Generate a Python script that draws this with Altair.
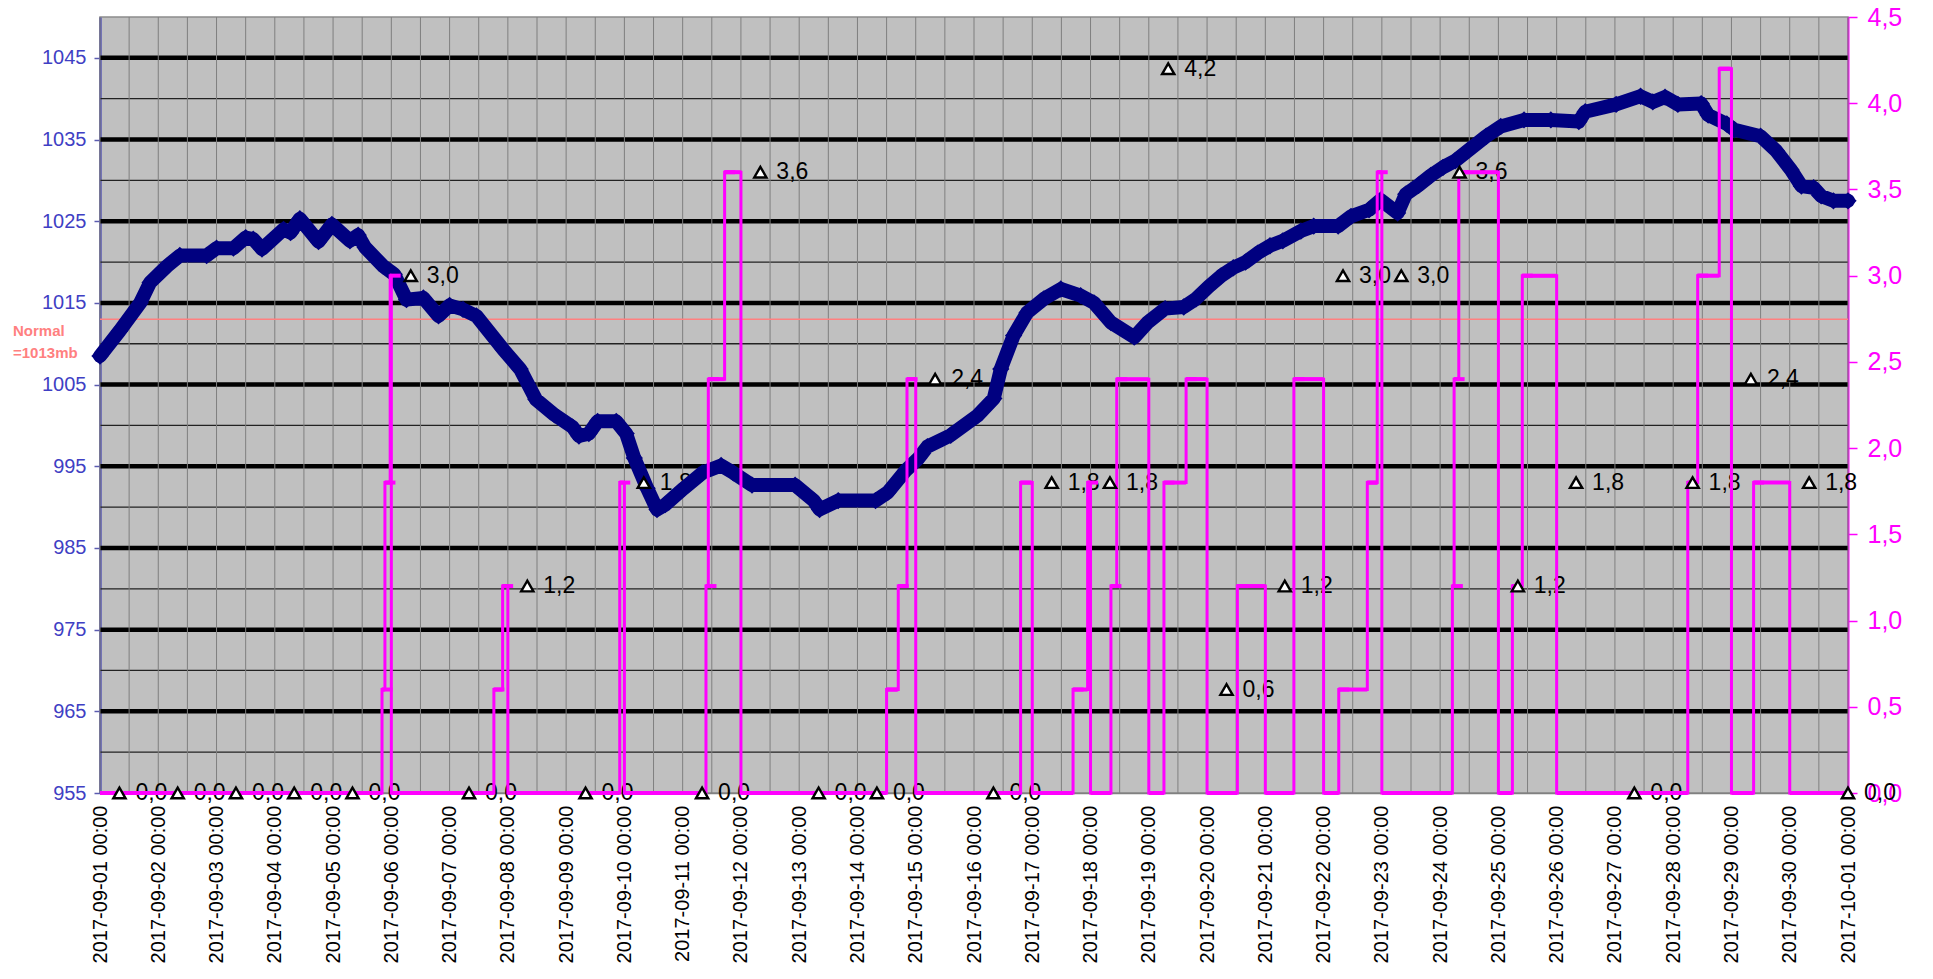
import altair as alt
import pandas as pd

FONT = "Liberation Sans"

# ---- pressure (mb): days since 2017-09-01 00:00 ----
p_day = [0.0, 0.34, 0.69, 0.86, 1.15, 1.37, 1.83, 2.0, 2.29, 2.5,
         2.63, 2.78, 3.15, 3.27, 3.43, 3.75, 3.98, 4.29, 4.43, 4.55,
         4.86, 5.05, 5.26, 5.55, 5.81, 6.0, 6.23, 6.46, 6.92, 7.21,
         7.48, 7.8, 8.11, 8.22, 8.39, 8.54, 8.86, 9.03, 9.17, 9.39,
         9.56, 9.7, 10.02, 10.34, 10.66, 10.87, 11.19, 11.93, 12.25, 12.35,
         12.67, 13.31, 13.52, 13.83, 14.05, 14.2, 14.6, 15.06, 15.34, 15.46,
         15.68, 15.91, 16.2, 16.49, 16.83, 17.06, 17.35, 17.75, 17.98, 18.28,
         18.6, 18.81, 19.03, 19.24, 19.45, 19.66, 19.87, 20.08, 20.3, 20.61,
         20.83, 21.25, 21.47, 21.78, 21.98, 22.27, 22.41, 22.63, 22.84, 23.05,
         23.26, 23.47, 23.79, 24.04, 24.44, 24.9, 25.38, 25.49, 26.02, 26.44,
         26.65, 26.86, 27.08, 27.48, 27.6, 27.92, 28.05, 28.5, 28.77, 29.02,
         29.2, 29.41, 29.54, 29.75, 30.0]
p_mb = [1008.5, 1011.6, 1015.0, 1017.5, 1019.5, 1020.8, 1020.8, 1021.7, 1021.7, 1023.0,
        1022.8, 1021.6, 1024.0, 1023.6, 1025.3, 1022.5, 1024.6, 1022.6, 1023.3, 1021.8,
        1019.5, 1018.5, 1015.4, 1015.6, 1013.4, 1014.7, 1014.2, 1013.4, 1009.3, 1006.9,
        1003.2, 1001.3, 999.8, 998.7, 999.0, 1000.5, 1000.5, 999.0, 996.0, 992.3,
        989.7, 990.3, 992.3, 994.2, 995.1, 994.2, 992.7, 992.7, 990.8, 989.7,
        990.8, 990.8, 991.8, 994.5, 996.0, 997.4, 998.8, 1001.2, 1003.3, 1006.9,
        1011.0, 1013.8, 1015.5, 1016.7, 1015.9, 1015.0, 1012.6, 1010.8, 1012.6, 1014.3,
        1014.5, 1015.5, 1017.0, 1018.3, 1019.3, 1020.0, 1021.1, 1022.0, 1022.6, 1023.8,
        1024.4, 1024.4, 1025.6, 1026.4, 1027.6, 1026.0, 1028.3, 1029.4, 1030.6, 1031.6,
        1032.4, 1033.6, 1035.4, 1036.6, 1037.4, 1037.4, 1037.2, 1038.4, 1039.3, 1040.3,
        1039.6, 1040.2, 1039.3, 1039.4, 1038.0, 1036.9, 1036.2, 1035.4, 1033.6, 1031.3,
        1029.3, 1029.1, 1028.1, 1027.5, 1027.5]

# ---- cumulative rain since midnight (mm), transitions ----
rain_day = [0.0, 4.84, 4.89, 4.98, 5.0, 6.76, 6.91, 7.0, 8.92, 9.0,
            10.40, 10.44, 10.72, 11.0, 13.50, 13.70, 13.85, 14.0, 15.80, 16.0,
            16.70, 16.95, 17.0, 17.35, 17.45, 18.0, 18.26, 18.64, 19.0, 19.52,
            20.0, 20.49, 21.0, 21.26, 21.75, 21.92, 22.0, 23.21, 23.24, 23.32,
            24.0, 24.24, 24.41, 25.0, 27.25, 27.42, 27.79, 28.0, 28.38, 29.0, 30.0]
rain_mm = [0.0, 0.6, 1.8, 3.0, 0.0, 0.6, 1.2, 0.0, 1.8, 0.0,
           1.2, 2.4, 3.6, 0.0, 0.6, 1.2, 2.4, 0.0, 1.8, 0.0,
           0.6, 1.8, 0.0, 1.2, 2.4, 0.0, 1.8, 2.4, 0.0, 1.2,
           0.0, 2.4, 0.0, 0.6, 1.8, 3.6, 0.0, 1.2, 2.4, 3.6,
           0.0, 1.2, 3.0, 0.0, 1.8, 3.0, 4.2, 0.0, 1.8, 0.0, 0.0]

# ---- 24h rain totals (triangle labels) ----
daily_time = ["2017-09-01 08:00", "2017-09-02 08:00", "2017-09-03 08:00", "2017-09-04 08:00",
              "2017-09-05 08:00", "2017-09-06 08:00", "2017-09-07 08:00", "2017-09-08 08:00",
              "2017-09-09 08:00", "2017-09-10 08:00", "2017-09-11 08:00", "2017-09-12 08:00",
              "2017-09-13 08:00", "2017-09-14 08:00", "2017-09-15 08:00", "2017-09-16 08:00",
              "2017-09-17 08:00", "2017-09-18 08:00", "2017-09-19 08:00", "2017-09-20 08:00",
              "2017-09-21 08:00", "2017-09-22 08:00", "2017-09-23 08:00", "2017-09-24 08:00",
              "2017-09-25 08:00", "2017-09-26 08:00", "2017-09-27 08:00", "2017-09-28 08:00",
              "2017-09-29 08:00", "2017-09-30 08:00", "2017-10-01 00:00"]
daily_total = [0.0, 0.0, 0.0, 0.0, 0.0, 3.0, 0.0, 1.2, 0.0, 1.8,
               0.0, 3.6, 0.0, 0.0, 2.4, 0.0, 1.8, 1.8, 4.2, 0.6,
               1.2, 3.0, 3.0, 3.6, 1.2, 1.8, 0.0, 1.8, 2.4, 1.8, 0.0]

# ---- axis levels ----
left_ticks = [955, 965, 975, 985, 995, 1005, 1015, 1025, 1035, 1045]
grid_major = [965, 975, 985, 995, 1005, 1015, 1025, 1035, 1045]
grid_minor = [960, 970, 980, 990, 1000, 1010, 1020, 1030, 1040]
right_ticks = [0, 0.5, 1, 1.5, 2, 2.5, 3, 3.5, 4, 4.5]
normal_mb = [1013]
normal_text = ["Normal\n=1013mb"]

T0 = pd.Timestamp("2017-09-01 00:00")
press = pd.DataFrame({"t": T0 + pd.to_timedelta(p_day, unit="D"), "mb": p_mb})
rain = pd.DataFrame({"t": T0 + pd.to_timedelta(rain_day, unit="D"), "v": rain_mm})
rain["t2"] = rain["t"].shift(-1)
seg = rain.dropna().copy()
wet = rain[rain["v"] > 0].copy()
daily = pd.DataFrame({"t": pd.to_datetime(daily_time), "v": daily_total})
daily["lab"] = [f"{v:.1f}".replace(".", ",") for v in daily_total]
vgrid = pd.DataFrame({"t": pd.date_range("2017-09-01", "2017-10-01", freq="12h")})
major_df = pd.DataFrame({"mb": grid_major})
minor_df = pd.DataFrame({"mb": grid_minor})
normal_df = pd.DataFrame({"mb": normal_mb, "txt": normal_text})

day_vals = [alt.DateTime(year=2017, month=9, date=d) for d in range(1, 31)] + \
           [alt.DateTime(year=2017, month=10, date=1)]
xscale = alt.Scale(domain=[alt.DateTime(year=2017, month=9, date=1),
                           alt.DateTime(year=2017, month=10, date=1)], nice=False)
xaxis = alt.Axis(values=day_vals, format="%Y-%m-%d %H:%M", labelAngle=270, grid=False,
                 ticks=False, labelFontSize=20, labelColor="black", labelPadding=12,
                 domainColor="#808080", domainWidth=1.5, labelOverlap=False,
                 labelFont=FONT, title=None)


def X(field="t"):
    return alt.X(f"{field}:T", scale=xscale, axis=xaxis)


yL = alt.Scale(domain=[955, 1050], nice=False, zero=False)
yL_axis = alt.Axis(values=left_ticks, format="d", grid=False, title=None, labelFontSize=20,
                   labelColor="#3f3fc4", labelFont=FONT, tickColor="#5b5bb0",
                   domainColor="#5b5bb0", domainWidth=2.5, tickSize=6, tickWidth=1.5,
                   labelPadding=8, orient="left")
yR = alt.Scale(domain=[0, 4.5], nice=False, zero=True)
yR_axis = alt.Axis(values=right_ticks, grid=False, title=None, labelFontSize=25,
                   labelColor="#ff00ff", labelFont=FONT, tickColor="#ff00ff",
                   domainColor="#ff00ff", domainWidth=2, tickSize=9, tickWidth=1.5,
                   labelPadding=10, orient="right",
                   labelExpr="replace(format(datum.value, '.1f'), '.', ',')")

# --- left group A: grid and normal line ---
minor = alt.Chart(minor_df).mark_rule(color="#222222", strokeWidth=1.3).encode(
    y=alt.Y("mb:Q", scale=yL, axis=yL_axis))
major = alt.Chart(major_df).mark_rule(color="#000000", strokeWidth=4.5).encode(
    y=alt.Y("mb:Q", scale=yL, axis=yL_axis))
vg = alt.Chart(vgrid).mark_rule(color="#7f7f7f", strokeWidth=1).encode(x=X())
normal_rule = alt.Chart(normal_df).mark_rule(color="#ff8080", strokeWidth=1.3).encode(
    y=alt.Y("mb:Q", scale=yL, axis=yL_axis))
normal_lbl = alt.Chart(normal_df).mark_text(
    align="left", baseline="top", dy=5, lineBreak="\n", lineHeight=22,
    fontWeight="bold", fontSize=15, color="#ff8080", font=FONT).encode(
    x=alt.value(-87), y=alt.Y("mb:Q", scale=yL, axis=yL_axis), text="txt:N")
left_A = alt.layer(minor, major, vg, normal_rule, normal_lbl)

# --- right group A: data labels ---
right_A = alt.Chart(daily).mark_text(
    align="left", baseline="middle", dx=16, fontSize=23, color="black", font=FONT).encode(
    x=X(), y=alt.Y("v:Q", scale=yR, axis=None), text="lab:N")

# --- left group B: pressure ---
p_line = alt.Chart(press).mark_line(color="#000080", strokeWidth=14, strokeJoin="round",
                                    strokeCap="round").encode(
    x=X(), y=alt.Y("mb:Q", scale=yL, axis=None))
p_pts = alt.Chart(press).mark_point(shape="diamond", filled=True, size=300,
                                    color="#000080", opacity=1).encode(
    x=X(), y=alt.Y("mb:Q", scale=yL, axis=None))
left_B = alt.layer(p_line, p_pts)

# --- right group B: rain + triangles ---
r_seg = alt.Chart(seg).mark_rule(color="#ff00ff", strokeWidth=4).encode(
    x=X(), x2=alt.X2("t2:T"), y=alt.Y("v:Q", scale=yR, axis=yR_axis))
r_line = alt.Chart(rain).mark_line(color="#ff00ff", strokeWidth=3,
                                   interpolate="step-after").encode(
    x=X(), y=alt.Y("v:Q", scale=yR, axis=yR_axis))
r_dash = alt.Chart(wet).mark_tick(color="#ff00ff", orient="horizontal", size=11,
                                  thickness=4, xOffset=5, opacity=1).encode(
    x=X(), y=alt.Y("v:Q", scale=yR, axis=yR_axis))
tri = alt.Chart(daily).mark_point(shape="triangle-up", filled=True, fill="white",
                                  stroke="black", strokeWidth=2.4, size=150,
                                  opacity=1).encode(
    x=X(), y=alt.Y("v:Q", scale=yR, axis=yR_axis))
right_B = alt.layer(r_seg, r_line, r_dash, tri)

chart = alt.layer(left_A, right_A, left_B, right_B).resolve_scale(
    y="independent").resolve_axis(y="independent").properties(
    width=1748, height=776,
    autosize=alt.AutoSizeParams(type="none"),
    padding={"left": 92, "top": 9, "right": 70, "bottom": 170},
).configure(font=FONT).configure_view(fill="#c0c0c0", stroke="#8c8c8c", strokeWidth=1.5)

chart.save("out.html", embed_options={"renderer": "svg", "actions": False})
